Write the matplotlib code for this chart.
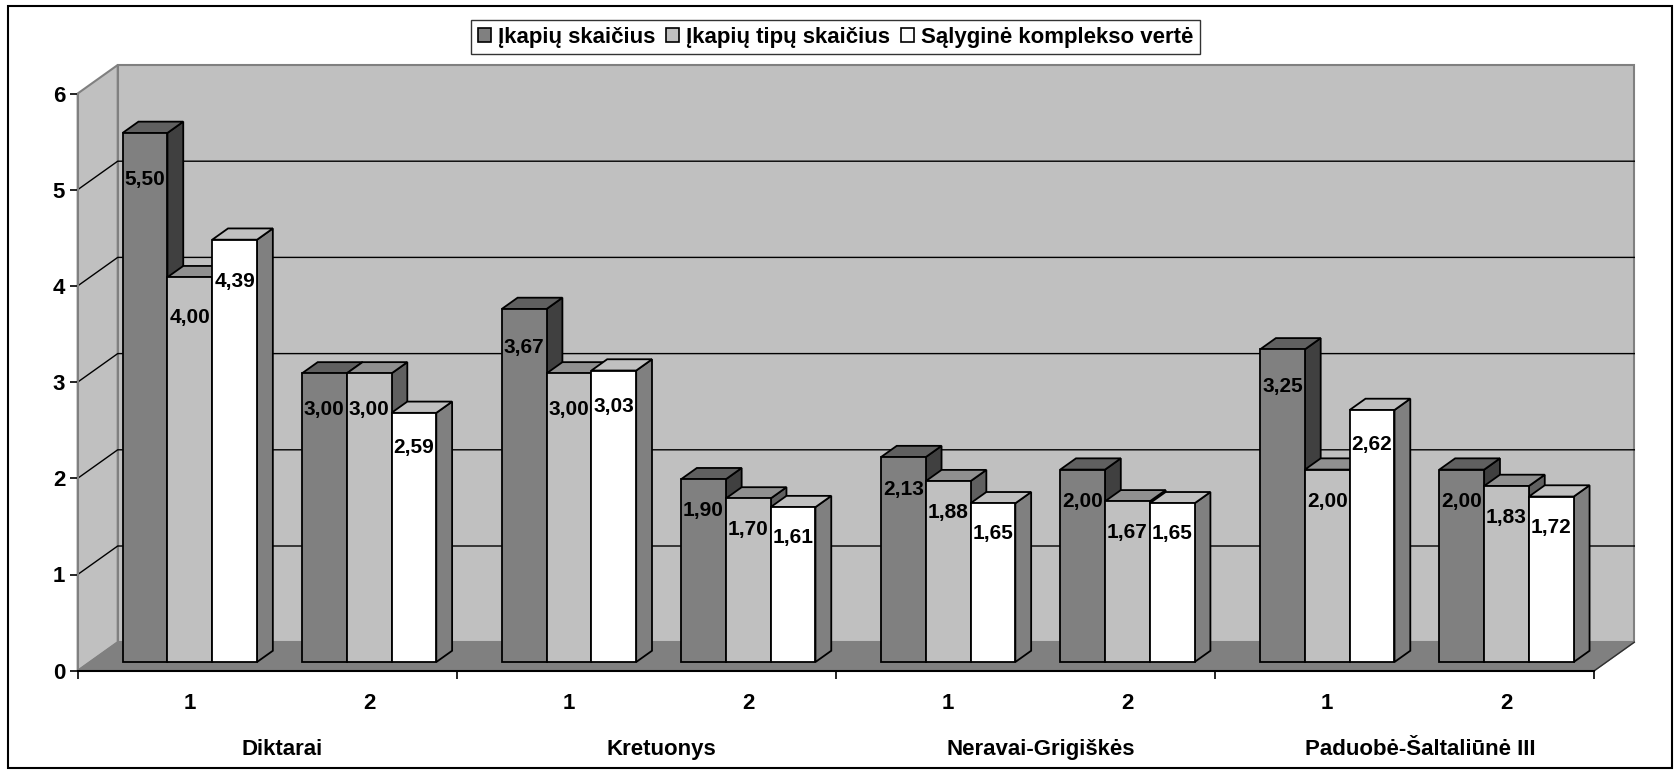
import matplotlib
matplotlib.use("Agg")
import matplotlib.pyplot as plt
from matplotlib.patches import Polygon, Rectangle, Patch

# ---------------- data ----------------
groups = ["Diktarai", "Kretuonys", "Neravai-Grigiškės", "Paduobė-Šaltaliūnė III"]
sub_labels = ["1", "2"]
series_names = ["Įkapių skaičius", "Įkapių tipų skaičius", "Sąlyginė komplekso vertė"]
kapu_skaicius = [5.50, 3.00, 3.67, 1.90, 2.13, 2.00, 3.25, 2.00]
kapu_tipu_skaicius = [4.00, 3.00, 3.00, 1.70, 1.88, 1.67, 2.00, 1.83]
komplekso_verte = [4.39, 2.59, 3.03, 1.61, 1.65, 1.65, 2.62, 1.72]
series = [kapu_skaicius, kapu_tipu_skaicius, komplekso_verte]
y_ticks = [0, 1, 2, 3, 4, 5, 6]

# ---------------- style ----------------
front_cols = ["#808080", "#C0C0C0", "#FFFFFF"]
top_cols = ["#606060", "#909090", "#C0C0C0"]
side_cols = ["#404040", "#606060", "#808080"]
FS_LAB = 15
FS_AX = 16
FS_LEG = 16

plt.rcParams["font.family"] = ["Liberation Sans", "DejaVu Sans"]
plt.rcParams["font.weight"] = "bold"

W, H = 1680, 773
fig = plt.figure(figsize=(W / 100, H / 100), dpi=100)

x0_px, y0_px = 77.7, 773 - 670.7
grp_px, unit_px = 379.15, 96.2
ax = fig.add_axes([x0_px / W, y0_px / H, 4 * grp_px / W, 6 * unit_px / H])
ax.set_xlim(0, len(groups))
ax.set_ylim(0, 6)
ax.patch.set_visible(False)

DX = 40 / grp_px      # depth offset (x units) of the back wall
DY = 28.5 / unit_px   # depth offset (value units)
NG = len(groups)
YMAX = y_ticks[-1]

# walls and floor
back = Polygon([(DX, DY), (NG + DX, DY), (NG + DX, YMAX + DY), (DX, YMAX + DY)],
               closed=True, facecolor="#C0C0C0", edgecolor="#808080", lw=1.5,
               clip_on=False, zorder=0.5)
left = Polygon([(0, 0), (DX, DY), (DX, YMAX + DY), (0, YMAX)], closed=True,
               facecolor="#C0C0C0", edgecolor="#808080", lw=1.5, clip_on=False, zorder=0.6)
floor = Polygon([(0, 0), (NG, 0), (NG + DX, DY), (DX, DY)], closed=True,
                facecolor="#808080", edgecolor="#808080", lw=1.0, clip_on=False, zorder=0.7)
for p in (back, left, floor):
    ax.add_patch(p)
ax.plot([NG, NG + DX], [0, DY], color="#303030", lw=1.0, clip_on=False, zorder=0.8)

# gridlines
for v in y_ticks[1:-1]:
    ax.plot([0, DX, NG + DX], [v, v + DY, v + DY], color="black", lw=1.0,
            clip_on=False, zorder=0.9)

# bars
BAR_W = 44.8 / grp_px
SUB_CENTERS = [0.2636, 0.7364]
T0, T1 = 0.305, 0.70
ox, oy = T0 * DX, T0 * DY
ddx, ddy = (T1 - T0) * DX, (T1 - T0) * DY
ns = len(series)
labels_to_draw = []
z = 2
for slot in range(len(kapu_skaicius)):
    g, s = divmod(slot, len(sub_labels))
    center = g + SUB_CENTERS[s]
    for k in range(ns):
        v = series[k][slot]
        xl = center - ns * BAR_W / 2 + k * BAR_W + ox
        xr = xl + BAR_W
        yb, yt = oy, v + oy
        front = Polygon([(xl, yb), (xr, yb), (xr, yt), (xl, yt)], closed=True,
                        facecolor=front_cols[k], edgecolor="black", lw=1.3,
                        clip_on=False, zorder=z)
        top = Polygon([(xl, yt), (xr, yt), (xr + ddx, yt + ddy), (xl + ddx, yt + ddy)],
                      closed=True, facecolor=top_cols[k], edgecolor="black", lw=1.3,
                      clip_on=False, zorder=z)
        side = Polygon([(xr, yb), (xr + ddx, yb + ddy), (xr + ddx, yt + ddy), (xr, yt)],
                       closed=True, facecolor=side_cols[k], edgecolor="black", lw=1.3,
                       clip_on=False, zorder=z)
        for p in (side, top, front):
            ax.add_patch(p)
        z += 0.01
        off = 0.25 + 0.042 * v
        labels_to_draw.append(((xl + xr) / 2, yt - off, f"{v:.2f}".replace(".", ",")))

for x, y, t in labels_to_draw:
    ax.text(x, y, t, ha="center", va="center", fontsize=FS_LAB, fontweight="bold",
            color="black", zorder=20, clip_on=False)

# axes styling
for sp in ("top", "right"):
    ax.spines[sp].set_visible(False)
ax.spines["left"].set_color("#808080")
ax.spines["left"].set_linewidth(1.5)
ax.spines["bottom"].set_color("black")
ax.spines["bottom"].set_linewidth(1.5)
ax.spines["left"].set_zorder(15)
ax.spines["bottom"].set_zorder(15)
ax.set_yticks(y_ticks)
ax.set_yticklabels([str(t) for t in y_ticks])
ax.tick_params(axis="y", direction="out", length=5.5, width=1.2, color="black",
               labelsize=FS_AX, pad=3.5)
ax.set_xticks(range(NG + 1))
ax.set_xticklabels([])
ax.tick_params(axis="x", direction="out", length=6, width=1.2, color="black")
for lab in ax.get_yticklabels():
    lab.set_fontweight("bold")

# category labels
for g in range(NG):
    for s, sl in enumerate(sub_labels):
        ax.text(g + SUB_CENTERS[s] + ox, -33 / unit_px, sl, ha="center", va="center",
                fontsize=FS_AX, fontweight="bold", clip_on=False)
    ax.text(g + 0.5 + 0.04, -79 / unit_px, groups[g], ha="center", va="center",
            fontsize=FS_AX, fontweight="bold", clip_on=False)

# legend
handles = [Patch(facecolor=front_cols[k], edgecolor="black", lw=1.2) for k in range(ns)]
leg = fig.legend(handles, series_names, loc="upper center", ncol=3,
                 bbox_to_anchor=(835.5 / W, 1 - 9 / H), frameon=True, fancybox=False,
                 edgecolor="black", handlelength=0.6, handleheight=0.6,
                 handletextpad=0.3, columnspacing=0.5, borderpad=0.3,
                 prop={"weight": "bold", "size": FS_LEG})
leg.get_frame().set_linewidth(1.0)

# outer frame
fig.patches.append(Rectangle((8 / W, 5 / H), (1672 - 8) / W, (768 - 6) / H,
                             transform=fig.transFigure, fill=False,
                             edgecolor="black", lw=1.5))

fig.savefig("out.png", dpi=100)
